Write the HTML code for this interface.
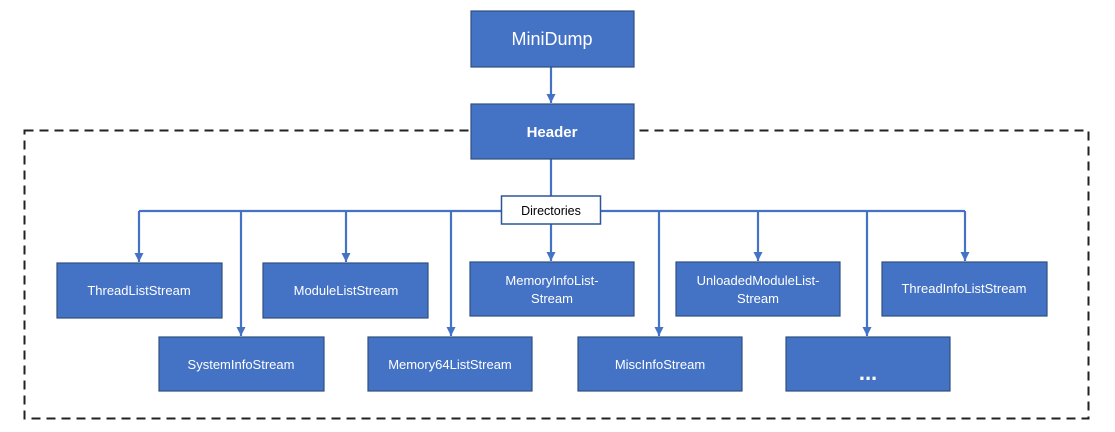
<!DOCTYPE html>
<html><head><meta charset="utf-8"><style>
html,body{margin:0;padding:0;background:#fff;}
svg{display:block;}
text{font-family:"Liberation Sans",sans-serif;fill:#fff;text-anchor:middle;}
</style></head><body>
<svg width="1115" height="432" viewBox="0 0 1115 432" xmlns="http://www.w3.org/2000/svg">
<defs><marker id="a" markerWidth="8" markerHeight="8" refX="4" refY="6" orient="auto" markerUnits="userSpaceOnUse">
<path d="M0,0 L8,0 L4,7 z" fill="#4472C4"/></marker>
<marker id="d" viewBox="0 0 10 10" markerWidth="9" markerHeight="9" refX="10" refY="5" orient="auto" markerUnits="userSpaceOnUse"><path d="M0,0 L10,5 L0,10 z" fill="#4472C4"/></marker></defs>
<rect x="24.5" y="130.5" width="1064" height="288" fill="none" stroke="#222" stroke-width="2" stroke-dasharray="9,6"/>
<g stroke="#4472C4" stroke-width="2.2" fill="none">
<line x1="551" y1="67" x2="551" y2="103" marker-end="url(#d)"/>
<line x1="551" y1="159" x2="551" y2="197"/>
<line x1="139" y1="211" x2="965" y2="211"/>
<line x1="139" y1="211" x2="139" y2="262" marker-end="url(#d)"/>
<line x1="241" y1="211" x2="241" y2="336" marker-end="url(#d)"/>
<line x1="346" y1="211" x2="346" y2="262" marker-end="url(#d)"/>
<line x1="451" y1="211" x2="451" y2="336" marker-end="url(#d)"/>
<line x1="551" y1="224" x2="551" y2="261" marker-end="url(#d)"/>
<line x1="659" y1="211" x2="659" y2="336" marker-end="url(#d)"/>
<line x1="758" y1="211" x2="758" y2="261" marker-end="url(#d)"/>
<line x1="867" y1="211" x2="867" y2="336" marker-end="url(#d)"/>
<line x1="965" y1="211" x2="965" y2="261" marker-end="url(#d)"/>
</g>
<g fill="#4472C4" stroke="#2F4F80" stroke-width="1.2">
<rect x="471" y="11" width="163" height="56"/>
<rect x="471" y="104" width="163" height="55"/>
<rect x="57" y="263" width="165" height="55"/>
<rect x="263" y="263" width="165" height="55"/>
<rect x="470" y="262" width="164" height="54"/>
<rect x="676" y="262" width="164" height="54"/>
<rect x="882" y="262" width="165" height="54"/>
<rect x="159" y="337" width="165" height="54"/>
<rect x="368" y="337" width="164" height="54"/>
<rect x="578" y="337" width="164" height="54"/>
<rect x="786" y="337" width="164" height="54"/>
</g>
<rect x="501.5" y="196" width="99" height="28" fill="#fff" stroke="#2F5597" stroke-width="1.5"/>
<text x="552" y="45" font-size="18">MiniDump</text>
<text x="552" y="137" font-size="15" font-weight="bold">Header</text>
<text x="551" y="215" font-size="12.5" style="fill:#000">Directories</text>
<g font-size="13">
<text x="139" y="295">ThreadListStream</text>
<text x="346" y="295">ModuleListStream</text>
<text x="552" y="285">MemoryInfoList-</text>
<text x="552" y="303">Stream</text>
<text x="758" y="285">UnloadedModuleList-</text>
<text x="758" y="303">Stream</text>
<text x="964" y="293">ThreadInfoListStream</text>
<text x="241" y="369">SystemInfoStream</text>
<text x="450" y="369">Memory64ListStream</text>
<text x="660" y="369">MiscInfoStream</text>
</g>
<text x="868" y="380" font-size="22" font-weight="bold">...</text>
</svg>
</body></html>
